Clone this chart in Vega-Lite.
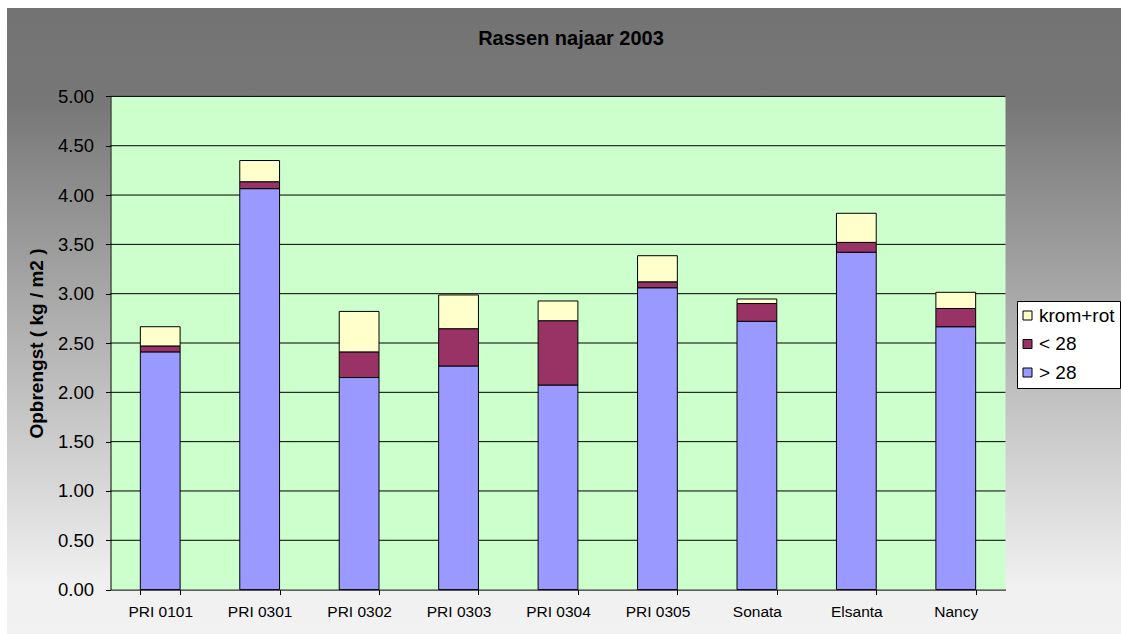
{
  "$schema": "https://vega.github.io/schema/vega-lite/v6.json",
  "width": 1114,
  "height": 626,
  "autosize": {"type": "none"},
  "padding": {"left": 7, "top": 8, "right": 0, "bottom": 0},
  "background": "white",
  "view": {
    "fill": {
      "gradient": "linear", "x1": 0, "y1": 0, "x2": 0, "y2": 1,
      "stops": [
        {"offset": 0, "color": "#737373"},
        {"offset": 0.15, "color": "#777777"},
        {"offset": 0.92, "color": "#f0f0f0"},
        {"offset": 1, "color": "#f2f2f2"}
      ]
    },
    "stroke": null
  },
  "title": {
    "text": "Rassen najaar 2003",
    "anchor": "middle",
    "frame": "group",
    "font": "Liberation Sans",
    "fontSize": 20,
    "fontWeight": "bold",
    "color": "black",
    "offset": 0,
    "baseline": "alphabetic",
    "dy": 57,
    "dx": 7
  },
  "datasets": {
    "yield": [
      {"ras": "PRI 0101", "klasse": "> 28", "opbrengst": 2.41, "volgorde": 1},
      {"ras": "PRI 0101", "klasse": "< 28", "opbrengst": 0.06, "volgorde": 2},
      {"ras": "PRI 0101", "klasse": "krom+rot", "opbrengst": 0.195, "volgorde": 3},
      {"ras": "PRI 0301", "klasse": "> 28", "opbrengst": 4.065, "volgorde": 1},
      {"ras": "PRI 0301", "klasse": "< 28", "opbrengst": 0.07, "volgorde": 2},
      {"ras": "PRI 0301", "klasse": "krom+rot", "opbrengst": 0.215, "volgorde": 3},
      {"ras": "PRI 0302", "klasse": "> 28", "opbrengst": 2.15, "volgorde": 1},
      {"ras": "PRI 0302", "klasse": "< 28", "opbrengst": 0.26, "volgorde": 2},
      {"ras": "PRI 0302", "klasse": "krom+rot", "opbrengst": 0.41, "volgorde": 3},
      {"ras": "PRI 0303", "klasse": "> 28", "opbrengst": 2.267, "volgorde": 1},
      {"ras": "PRI 0303", "klasse": "< 28", "opbrengst": 0.378, "volgorde": 2},
      {"ras": "PRI 0303", "klasse": "krom+rot", "opbrengst": 0.342, "volgorde": 3},
      {"ras": "PRI 0304", "klasse": "> 28", "opbrengst": 2.074, "volgorde": 1},
      {"ras": "PRI 0304", "klasse": "< 28", "opbrengst": 0.652, "volgorde": 2},
      {"ras": "PRI 0304", "klasse": "krom+rot", "opbrengst": 0.2, "volgorde": 3},
      {"ras": "PRI 0305", "klasse": "> 28", "opbrengst": 3.06, "volgorde": 1},
      {"ras": "PRI 0305", "klasse": "< 28", "opbrengst": 0.06, "volgorde": 2},
      {"ras": "PRI 0305", "klasse": "krom+rot", "opbrengst": 0.265, "volgorde": 3},
      {"ras": "Sonata", "klasse": "> 28", "opbrengst": 2.72, "volgorde": 1},
      {"ras": "Sonata", "klasse": "< 28", "opbrengst": 0.18, "volgorde": 2},
      {"ras": "Sonata", "klasse": "krom+rot", "opbrengst": 0.046, "volgorde": 3},
      {"ras": "Elsanta", "klasse": "> 28", "opbrengst": 3.42, "volgorde": 1},
      {"ras": "Elsanta", "klasse": "< 28", "opbrengst": 0.1, "volgorde": 2},
      {"ras": "Elsanta", "klasse": "krom+rot", "opbrengst": 0.295, "volgorde": 3},
      {"ras": "Nancy", "klasse": "> 28", "opbrengst": 2.665, "volgorde": 1},
      {"ras": "Nancy", "klasse": "< 28", "opbrengst": 0.185, "volgorde": 2},
      {"ras": "Nancy", "klasse": "krom+rot", "opbrengst": 0.164, "volgorde": 3}
    ],
    "gridlevels": [
      {"niveau": 0.5}, {"niveau": 1.0}, {"niveau": 1.5}, {"niveau": 2.0}, {"niveau": 2.5},
      {"niveau": 3.0}, {"niveau": 3.5}, {"niveau": 4.0}, {"niveau": 4.5}, {"niveau": 5.0}
    ]
  },
  "layer": [
    {
      "data": {"values": [{}]},
      "mark": {"type": "rect", "fill": "#CCFFCC", "stroke": null},
      "encoding": {
        "x": {"datum": 0, "type": "quantitative", "scale": {"domain": [0, 1], "range": [103.5, 998.5]}, "axis": null},
        "x2": {"datum": 1},
        "y": {"datum": 0, "type": "quantitative"},
        "y2": {"datum": 5}
      }
    },
    {
      "data": {"name": "gridlevels"},
      "mark": {"type": "rule", "stroke": "black", "strokeWidth": 1},
      "encoding": {
        "x": {"datum": 0, "type": "quantitative", "scale": {"domain": [0, 1], "range": [103.5, 998.5]}, "axis": null},
        "x2": {"datum": 1},
        "y": {"field": "niveau", "type": "quantitative"}
      }
    },
    {
      "data": {"name": "yield"},
      "mark": {"type": "bar", "stroke": "black", "strokeWidth": 1},
      "encoding": {
        "x": {
          "field": "ras", "type": "nominal", "sort": null,
          "scale": {"range": [103.5, 998.5], "paddingInner": 0.6, "paddingOuter": 0.3},
          "axis": {
            "title": null, "orient": "bottom", "offset": -44.4, "tickBand": "extent",
            "labelAngle": 0, "labelFont": "Liberation Sans", "labelFontSize": 15.5, "labelColor": "black",
            "labelPadding": 10, "tickSize": 5, "tickColor": "black", "domainColor": "black", "grid": false, "zindex": 1
          }
        },
        "y": {
          "field": "opbrengst", "type": "quantitative", "stack": "zero",
          "scale": {"domain": [0, 5], "range": [581.6, 88.4], "nice": false},
          "axis": {
            "title": "Opbrengst ( kg / m2 )", "orient": "left", "offset": -103.5,
            "values": [0, 0.5, 1, 1.5, 2, 2.5, 3, 3.5, 4, 4.5, 5], "format": ".2f",
            "labelFont": "Liberation Sans", "labelFontSize": 18.5, "labelColor": "black", "labelPadding": 12,
            "tickSize": 5, "tickColor": "black", "domainColor": "black", "grid": false,
            "titleFont": "Liberation Sans", "titleFontSize": 19, "titleFontWeight": "bold", "titleColor": "black",
            "titleX": -64, "zindex": 1
          }
        },
        "color": {
          "field": "klasse", "type": "nominal",
          "scale": {"domain": ["krom+rot", "< 28", "> 28"], "range": ["#FFFFCC", "#993366", "#9999FF"]},
          "legend": {
            "title": null, "orient": "none", "legendX": 1010, "legendY": 293,
            "fillColor": "white", "strokeColor": "black", "padding": 5,
            "symbolType": "square", "symbolSize": 81, "symbolStrokeColor": "black", "symbolStrokeWidth": 1,
            "symbolOffset": -4,
            "labelFont": "Liberation Sans", "labelFontSize": 19, "labelColor": "black", "labelOffset": 2,
            "rowPadding": 8.5
          }
        },
        "order": {"field": "volgorde", "type": "quantitative"}
      }
    }
  ],
  "resolve": {"scale": {"x": "independent"}},
  "config": {
    "font": "Liberation Sans",
    "axis": {"domainWidth": 1, "tickWidth": 1}
  }
}
